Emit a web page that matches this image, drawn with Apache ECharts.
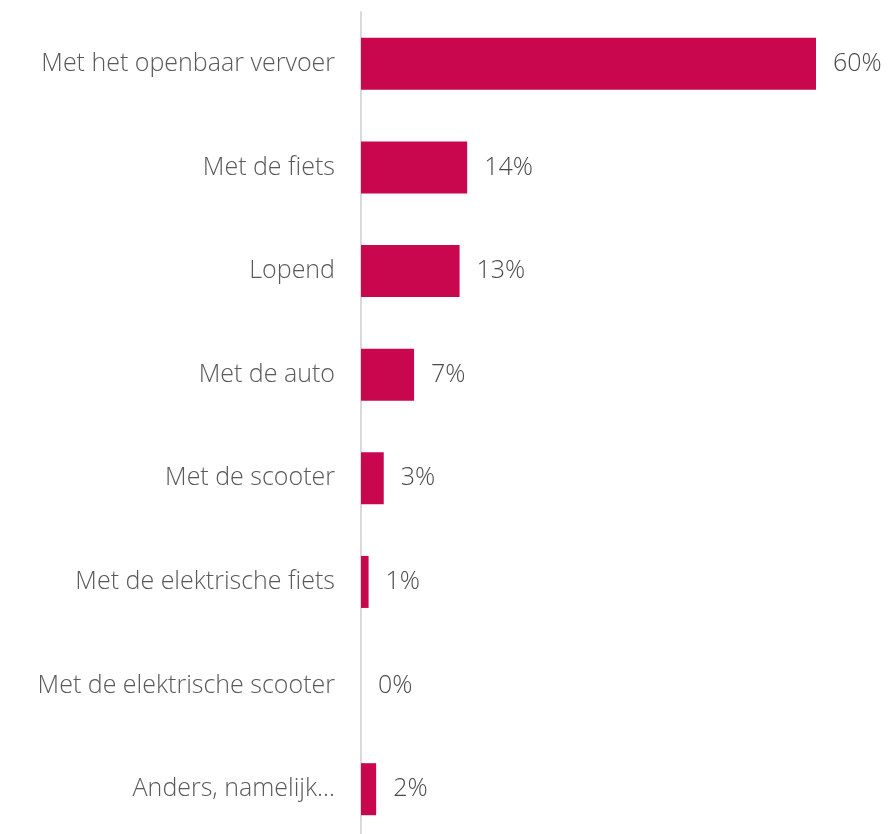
<!DOCTYPE html>
<html>
<head>
<meta charset="utf-8">
<script src="https://cdn.jsdelivr.net/npm/echarts@6/dist/echarts.min.js"></script>
<style>
  html, body { margin: 0; padding: 0; background: #fff; }
  #chart { width: 890px; height: 834px; }
</style>
</head>
<body>
<div id="chart"></div>
<script>
const categories = [
  'Met het openbaar vervoer',
  'Met de fiets',
  'Lopend',
  'Met de auto',
  'Met de scooter',
  'Met de elektrische fiets',
  'Met de elektrische scooter',
  'Anders, namelijk…'
];
const values = [60, 14, 13, 7, 3, 1, 0, 2];

const chart = echarts.init(document.getElementById('chart'));
const textColor = '#595959';
const fontFamily = '"Open Sans", Lato, sans-serif';

chart.setOption({
  animation: false,
  grid: {
    left: 361, right: 74, top: 12, bottom: -7,
    containLabel: false,
    outerBoundsMode: 'none'
  },
  xAxis: {
    type: 'value',
    min: 0,
    max: 60,
    show: false
  },
  yAxis: {
    type: 'category',
    data: categories,
    inverse: true,
    axisLine: { show: true, lineStyle: { color: '#d9d9d9', width: 2 } },
    axisTick: { show: false },
    axisLabel: {
      color: textColor,
      fontSize: 25,
      fontWeight: 300,
      fontFamily: fontFamily,
      margin: 26
    },
    splitLine: { show: false }
  },
  series: [{
    type: 'bar',
    data: values,
    barWidth: 52,
    itemStyle: { color: '#c8074f' },
    label: {
      show: true,
      position: 'right',
      distance: 17,
      formatter: '{c}%',
      color: '#4a4a4a',
      fontSize: 25,
      fontWeight: 300,
      fontFamily: fontFamily
    }
  }]
});
</script>
</body>
</html>
